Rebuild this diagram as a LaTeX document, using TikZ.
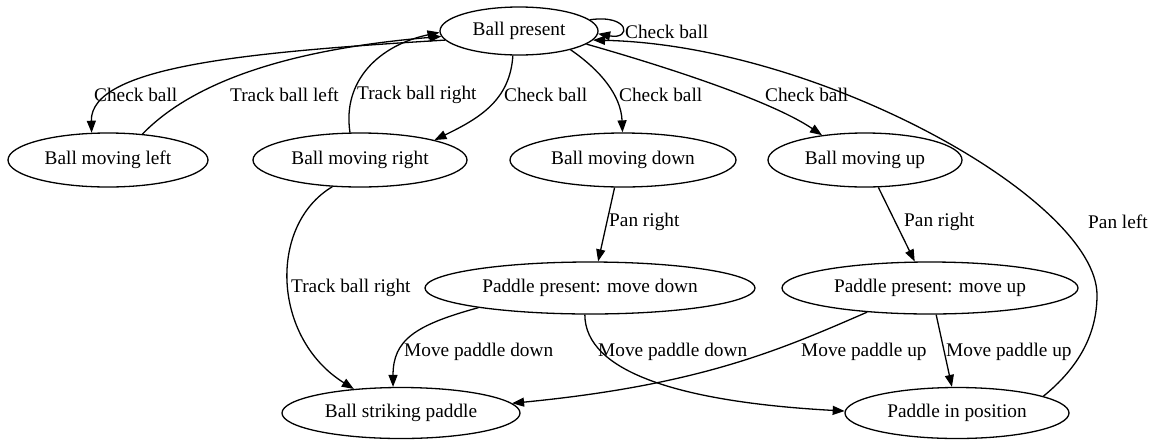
\documentclass[tikz,border=0pt]{standalone}
\usepackage{fontspec}
\setmainfont{Liberation Serif}
\usetikzlibrary{shapes.geometric,arrows.meta}
\begin{document}
\begin{tikzpicture}[x=1pt,y=-1pt,
  every node/.style={font=\fontsize{19.3}{23}\selectfont},
  state/.style={draw,ellipse,line width=1.3pt,inner sep=0pt},
  lbl/.style={anchor=west,inner sep=0pt},
  edge/.style={line width=1.3pt,-{Triangle[length=12pt,width=9pt]}}]
\useasboundingbox (0,0) rectangle (1156,440);
\node[state,minimum width=158pt,minimum height=48pt] (bp) at (519,31) {Ball present};
\node[state,minimum width=200pt,minimum height=54pt] (bml) at (108,160) {Ball moving left};
\node[state,minimum width=214pt,minimum height=54pt] (bmr) at (360,160) {Ball moving right};
\node[state,minimum width=226pt,minimum height=54pt] (bmd) at (623,160) {Ball moving down};
\node[state,minimum width=194pt,minimum height=54pt] (bmu) at (865,160) {Ball moving up};
\node[state,minimum width=330pt,minimum height=52pt] (ppd) at (590,288) {Paddle present: move down};
\node[state,minimum width=296pt,minimum height=52pt] (ppu) at (930,288) {Paddle present: move up};
\node[state,minimum width=238pt,minimum height=51pt] (bsp) at (401,413) {Ball striking paddle};
\node[state,minimum width=224pt,minimum height=51pt] (pip) at (957,413) {Paddle in position};
% edges
\draw[edge] (bp.187) .. controls (250,52) and (90,66) .. (bml.121);
\draw[edge] (bml.37) .. controls (190,85) and (280,50) .. (bp.184);
\draw[edge] (bmr.110) .. controls (342,80) and (380,45) .. (bp.181);
\draw[edge] (bp.256) .. controls (510,100) and (480,118) .. (bmr.15);
\draw[edge] (bp.340) .. controls (600,70) and (621,95) .. (bmd.91);
\draw[edge] (bp.349) .. controls (660,65) and (770,100) .. (bmu.150);
\draw[edge] (bp.9) .. controls (630,14) and (632,40) .. (bp.358);
\draw[edge] (pip.11) .. controls (1078,368) and (1097,335) .. (1097,295) .. controls (1097,200) and (820,45) .. (bp.353);
\draw[edge] (bmr.224) .. controls (268,225) and (272,338) .. (bsp.153);
\draw[edge] (bmd.253) -- (ppd.73);
\draw[edge] (bmu.296) -- (ppu.120);
\draw[edge] (ppd.190) .. controls (415,325) and (393,340) .. (bsp.107);
\draw[edge] (ppd.259) .. controls (585,372) and (680,402) .. (pip.179);
\draw[edge] (ppu.201) .. controls (780,350) and (700,385) .. (bsp.5);
\draw[edge] (ppu.283) -- (pip.101);
% labels
\node[lbl] (l1) at (94,95) {Check ball};
\node[lbl] (l2) at (230,95) {Track ball left};
\node[lbl] (l3) at (357,95) {Track ball right};
\node[lbl] (l4) at (504,95) {Check ball};
\node[lbl] (l5) at (619,95) {Check ball};
\node[lbl] (l6) at (765,95) {Check ball};
\node[lbl] (l7) at (625,32) {Check ball};
\node[lbl] (l8) at (1088,222) {Pan left};
\node[lbl] (l9) at (291,288) {Track ball right};
\node[lbl] (l10) at (609,222) {Pan right};
\node[lbl] (l11) at (904,222) {Pan right};
\node[lbl] (l12) at (404,352) {Move paddle down};
\node[lbl] (l13) at (598,352) {Move paddle down};
\node[lbl] (l14) at (801,352) {Move paddle up};
\node[lbl] (l15) at (946,352) {Move paddle up};
\end{tikzpicture}
\end{document}
